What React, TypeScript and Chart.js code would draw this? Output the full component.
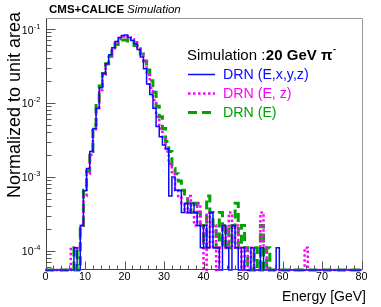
import React, { useEffect, useRef } from "react";
import { Chart, registerables } from "chart.js";

Chart.register(...registerables);

// ---- axis definition ----
const BIN_WIDTH = 0.8; // GeV, 100 bins from 0 to 80
const X_MIN = 0;
const X_MAX = 80;
const Y_MIN = 5.5e-5;
const Y_MAX = 0.141;
const X_MAJOR_STEP = 10;
const X_MINOR_STEP = 2;
const Y_DECADES = [1e-4, 1e-3, 1e-2, 1e-1];
const Y_DECADE_EXPONENTS = ["-4", "-3", "-2", "-1"];

// ---- series (bin contents, normalized to unit area), bin i = [0.8 i, 0.8 i + 0.8) ----
const drnExyz = [
  0, 0, 0, 0, 0, 0, 0, 0, 0, 0.00011,
  0, 0.00022, 0.00065, 0.0013, 0.0022, 0.0045, 0.0085, 0.016, 0.025, 0.034,
  0.045, 0.056, 0.068, 0.077, 0.082, 0.083, 0.077, 0.070, 0.063, 0.053,
  0.042, 0.029, 0.018, 0.013, 0.0085, 0.0048, 0.0035, 0.0027, 0.0024, 0.00055,
  0.0010, 0.00066, 0.00066, 0.00033, 0.00044, 0.00033, 0.00044, 0.00033, 0.00022, 0.00011,
  0.00022, 0.00011, 0.00033, 0.00011, 0.00011, 0, 0.00022, 0.00011, 0, 0.00022,
  0.00011, 0, 0.00011, 0, 0, 0.00011, 0, 0, 0.00011, 0,
  0, 0, 0, 0.00011, 0, 0, 0, 0, 0, 0,
  0, 0, 0, 0, 0, 0, 0, 0, 0, 0,
  0, 0, 0, 0, 0, 0, 0, 0, 0, 0,
];

const drnEz = [
  0, 0, 0, 0, 0, 0, 0, 0, 0.00011, 0.00011,
  0.00011, 0.00022, 0.00055, 0.0011, 0.0020, 0.0042, 0.0085, 0.015, 0.024, 0.033,
  0.044, 0.055, 0.066, 0.075, 0.079, 0.080, 0.077, 0.072, 0.066, 0.057,
  0.047, 0.035, 0.024, 0.016, 0.011, 0.0065, 0.0045, 0.0033, 0.0022, 0.0015,
  0.0011, 0.00066, 0.00055, 0.00044, 0.00033, 0.00055, 0.00033, 0.00022, 0.00044, 0.00022,
  0, 0.00033, 0.00011, 0.00022, 0, 0.00011, 0.00022, 0.00011, 0.00033, 0.00011,
  0.00022, 0.00011, 0, 0.00011, 0, 0.00011, 0, 0, 0.00033, 0.00011,
  0, 0, 0, 0, 0, 0, 0, 0, 0, 0,
  0, 0, 0.00011, 0, 0, 0, 0, 0, 0, 0,
  0, 0, 0, 0, 0, 0, 0, 0, 0, 0,
];

const drnE = [
  0, 0, 0, 0, 0, 0, 0, 0, 0, 0.00011,
  0, 0.00022, 0.00066, 0.0012, 0.0022, 0.0050, 0.010, 0.017, 0.025, 0.034,
  0.043, 0.053, 0.062, 0.068, 0.071, 0.071, 0.069, 0.066, 0.060, 0.054,
  0.046, 0.037, 0.028, 0.020, 0.014, 0.009, 0.0065, 0.0045, 0.0030, 0.0022,
  0.0013, 0.0011, 0.00088, 0.00066, 0.00055, 0.00044, 0.00033, 0.00044, 0.00033, 0.00022,
  0.00011, 0.00055, 0.00033, 0.00022, 0.00011, 0.00033, 0.00011, 0.00022, 0.00011, 0.00022,
  0.00044, 0.00011, 0.00022, 0.00011, 0, 0, 0.00011, 0, 0.00022, 0,
  0.00011, 0, 0, 0, 0, 0, 0, 0, 0, 0,
  0, 0, 0, 0, 0, 0, 0, 0, 0, 0,
  0, 0, 0, 0, 0, 0, 0, 0, 0, 0,
];

const SERIES_LABELS = ["DRN (E,x,y,z)", "DRN (E, z)", "DRN (E)"];
const SERIES_COLORS = ["#0a0aff", "#ff00ff", "#00a300"];

const FONT = "'Liberation Sans', Arial, Helvetica, sans-serif";

function toStepPoints(values: number[]) {
  const pts = values.map((v, i) => ({ x: X_MIN + i * BIN_WIDTH, y: v > 0 ? v : Y_MIN }));
  const last = values[values.length - 1];
  pts.push({ x: X_MIN + values.length * BIN_WIDTH, y: last > 0 ? last : Y_MIN });
  return pts;
}

function buildXTicks() {
  const t: number[] = [];
  for (let v = X_MIN; v <= X_MAX + 1e-9; v += X_MINOR_STEP) t.push(Math.round(v * 100) / 100);
  return t;
}

function buildYTicks() {
  const t: { value: number; exp: string }[] = [];
  const decades = [1e-5, ...Y_DECADES];
  decades.forEach((d) => {
    for (let m = 1; m <= 9; m++) {
      const v = m * d;
      if (v >= Y_MIN && v <= Y_MAX) {
        const idx = Y_DECADES.indexOf(d);
        t.push({ value: v, exp: m === 1 && idx >= 0 ? Y_DECADE_EXPONENTS[idx] : "" });
      }
    }
  });
  return t;
}

const X_TICKS = buildXTicks();
const Y_TICKS = buildYTicks();

const decorPlugin = {
  id: "rootDecor",
  afterDraw(chart: any) {
    const { ctx, chartArea: a } = chart;
    const xs = chart.scales.x;
    const ys = chart.scales.y;
    ctx.save();

    const L = Math.round(a.left) + 0.5;
    const R = Math.round(a.right) + 0.5;
    const T = Math.round(a.top) + 0.5;
    const B = Math.round(a.bottom) - 0.5;

    // frame
    ctx.lineWidth = 1;
    ctx.strokeStyle = "#9a9a9a";
    ctx.beginPath();
    ctx.moveTo(L, T);
    ctx.lineTo(R, T);
    ctx.lineTo(R, B);
    ctx.stroke();
    ctx.strokeStyle = "#444";
    ctx.beginPath();
    ctx.moveTo(L, T);
    ctx.lineTo(L, B);
    ctx.lineTo(R, B);
    ctx.stroke();

    // inward ticks
    ctx.strokeStyle = "#555";
    ctx.beginPath();
    xs.ticks.forEach((t: any) => {
      const px = Math.round(xs.getPixelForValue(t.value)) + 0.5;
      const len = Math.abs(t.value % X_MAJOR_STEP) < 1e-6 ? 8 : 4;
      ctx.moveTo(px, B);
      ctx.lineTo(px, B - len);
    });
    ys.ticks.forEach((t: any, i: number) => {
      const py = Math.round(ys.getPixelForValue(t.value)) + 0.5;
      const len = Y_TICKS[i] && Y_TICKS[i].exp ? 9 : 5;
      ctx.moveTo(L, py);
      ctx.lineTo(L + len, py);
    });
    ctx.stroke();

    // y tick labels: 10 with raised exponent
    ctx.fillStyle = "#000";
    ctx.textBaseline = "alphabetic";
    ys.ticks.forEach((t: any, i: number) => {
      const lab = Y_TICKS[i];
      if (!lab || !lab.exp) return;
      const py = ys.getPixelForValue(t.value);
      ctx.font = `7.5px ${FONT}`;
      ctx.textAlign = "right";
      ctx.fillText(lab.exp, 40.5, py - 0.5);
      const ew = ctx.measureText(lab.exp).width;
      ctx.font = `10.5px ${FONT}`;
      ctx.fillText("10", 40.5 - ew - 0.3, py + 4.5);
    });

    // header
    ctx.textAlign = "left";
    ctx.font = `bold 11.5px ${FONT}`;
    ctx.fillText("CMS+CALICE", 49, 12.5);
    const w1 = ctx.measureText("CMS+CALICE").width;
    ctx.font = `italic 11.5px ${FONT}`;
    ctx.fillText("Simulation", 49 + w1 + 3, 12.5);

    // axis titles
    ctx.font = `14px ${FONT}`;
    ctx.textAlign = "right";
    ctx.fillText("Energy [GeV]", 366, 300.5);
    ctx.save();
    ctx.translate(20, 12);
    ctx.rotate(-Math.PI / 2);
    ctx.textAlign = "right";
    ctx.font = `18px ${FONT}`;
    ctx.fillText("Normalized to unit area", 0, 0);
    ctx.restore();

    // legend header
    ctx.textAlign = "left";
    ctx.font = `15px ${FONT}`;
    ctx.fillText("Simulation :", 187, 59.5);
    let hx = 187 + ctx.measureText("Simulation :").width + 0.5;
    ctx.font = `bold 15px ${FONT}`;
    ctx.fillText("20 GeV \u03C0", hx, 59.5);
    hx += ctx.measureText("20 GeV \u03C0").width + 0.5;
    ctx.font = `bold 9px ${FONT}`;
    ctx.fillText("-", hx, 52);

    // legend entries, styled from the datasets
    const baselines = [79.2, 98.3, 117.2];
    chart.data.datasets.forEach((ds: any, i: number) => {
      const yb = baselines[i];
      const yl = Math.round(yb - 5.5) + 0.5;
      ctx.save();
      ctx.strokeStyle = ds.borderColor;
      ctx.lineWidth = ds.borderWidth;
      ctx.setLineDash(ds.borderDash || []);
      ctx.beginPath();
      ctx.moveTo(188, yl);
      ctx.lineTo(215, yl);
      ctx.stroke();
      ctx.restore();
      ctx.fillStyle = ds.borderColor;
      ctx.font = `14.2px ${FONT}`;
      ctx.fillText(ds.label, 223, yb);
    });

    ctx.restore();
  },
};

export default function App() {
  const canvasRef = useRef<HTMLCanvasElement | null>(null);

  useEffect(() => {
    const canvas = canvasRef.current;
    if (!canvas) return;
    const series = [drnExyz, drnEz, drnE];
    const widths = [1.5, 2.5, 3];
    const dashes: number[][] = [[], [2.5, 2.5], [9, 5]];
    const chart = new Chart(canvas, {
      type: "line",
      data: {
        datasets: series.map((vals, i) => ({
          label: SERIES_LABELS[i],
          data: toStepPoints(vals),
          borderColor: SERIES_COLORS[i],
          backgroundColor: SERIES_COLORS[i],
          borderWidth: widths[i],
          borderDash: dashes[i],
          stepped: true,
          pointRadius: 0,
          fill: false,
          tension: 0,
          order: i + 1,
          clip: 4,
        })),
      },
      options: {
        responsive: false,
        animation: false,
        devicePixelRatio: 1,
        layout: { padding: { top: 18, right: 19.5, left: 0, bottom: 0 } },
        plugins: {
          legend: { display: false },
          tooltip: { enabled: false },
          title: { display: false },
        },
        events: [],
        scales: {
          x: {
            type: "linear",
            min: X_MIN,
            max: X_MAX,
            afterBuildTicks: (s: any) => {
              s.ticks = X_TICKS.map((v) => ({ value: v }));
            },
            afterFit: (s: any) => {
              s.height = 37;
            },
            grid: { display: false, drawTicks: false },
            border: { display: false },
            ticks: {
              autoSkip: false,
              maxRotation: 0,
              minRotation: 0,
              padding: 1,
              color: "#000",
              font: { family: FONT, size: 10.8 },
              callback: (v: any) => (Math.abs(Number(v) % X_MAJOR_STEP) < 1e-6 ? String(v) : ""),
            },
          },
          y: {
            type: "logarithmic",
            min: Y_MIN,
            max: Y_MAX,
            afterBuildTicks: (s: any) => {
              s.ticks = Y_TICKS.map((t) => ({ value: t.value }));
            },
            afterFit: (s: any) => {
              s.width = 45.5;
            },
            grid: { display: false, drawTicks: false },
            border: { display: false },
            ticks: { display: false, autoSkip: false },
          },
        },
      },
      plugins: [decorPlugin],
    } as any);
    return () => chart.destroy();
  }, []);

  return (
    <div style={{ position: "fixed", left: 0, top: 0, width: 381, height: 307, background: "#fff" }}>
      <canvas ref={canvasRef} width={381} height={307} style={{ display: "block" }} />
    </div>
  );
}
